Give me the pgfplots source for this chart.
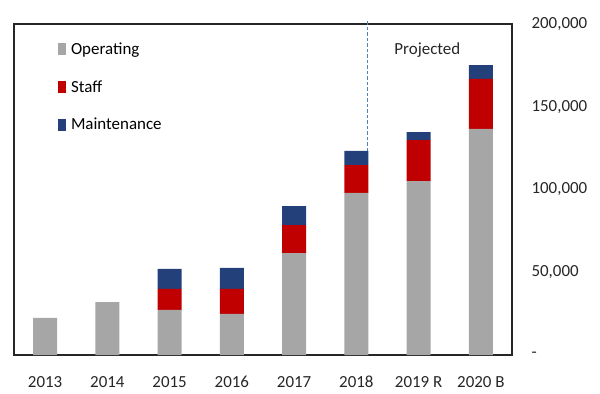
\documentclass[border=0pt]{standalone}
\usepackage{pgfplots}
\pgfplotsset{compat=1.18}
\usepackage{fontspec}
\setmainfont{Carlito}

\definecolor{opgray}{RGB}{166,166,166}
\definecolor{staffred}{RGB}{192,0,0}
\definecolor{maintblue}{RGB}{36,64,122}
\definecolor{projline}{RGB}{79,129,189}

\pgfplotstableread{
x  operating staff maintenance
0  22400     0     0
1  32000     0     0
2  27200     12700 12100
3  24800     15200 12600
4  61500     16900 11500
5  97900     16900 8500
6  105100    24800 4800
7  136600    30200 8400
}\costs

\begin{document}
\begin{tikzpicture}
\path[use as bounding box] (-14bp,-39bp) rectangle (586bp,355bp);
\begin{axis}[
  scale only axis,
  width=498bp, height=331bp,
  ybar stacked,
  bar width=24bp,
  xmin=-0.5, xmax=7.5,
  ymin=0, ymax=200000,
  scaled y ticks=false,
  xtick={0,...,7},
  xticklabels={2013,2014,2015,2016,2017,2018,2019 R,2020 B},
  ytick={0,50000,100000,150000,200000},
  yticklabels={{-},{50,000},{100,000},{150,000},{200,000}},
  yticklabel pos=right,
  major tick length=0pt,
  tick style={draw=none},
  /pgf/number format/assume math mode=true,
  tick label style={font=\fontsize{17}{20}\selectfont, text=black!85},
  xticklabel style={text height=12bp, text depth=0bp, yshift=-17bp},
  yticklabel style={anchor=west, xshift=16bp},
  axis line style={line width=1.6bp, draw=black!85},
  legend style={
    at={(rel axis cs:0.088,0.95)}, anchor=north west,
    draw=none, fill=none,
    font=\fontsize{17}{20}\selectfont,
    row sep=20.5bp,
    column sep=3bp,
    inner sep=0pt,
  },
  legend cell align=left,
  legend image code/.code={\fill[#1] (0bp,-6bp) rectangle (8bp,6bp);},
  clip=false,
]
\addplot[fill=opgray, draw=none] table[x=x, y=operating] {\costs};
\addlegendentry{Operating}
\addplot[fill=staffred, draw=none] table[x=x, y=staff] {\costs};
\addlegendentry{Staff}
\addplot[fill=maintblue, draw=none] table[x=x, y=maintenance] {\costs};
\addlegendentry{Maintenance}

% boundary between actual and projected years
\draw[projline, line width=1.2bp, dash pattern=on 3.5bp off 2bp]
  (axis cs:5.18,0) -- (axis cs:5.18,202500);
\node[font=\fontsize{17}{20}\selectfont, text=black!85]
  at (axis cs:6.14,184500) {Projected};
\end{axis}
\end{tikzpicture}
\end{document}
